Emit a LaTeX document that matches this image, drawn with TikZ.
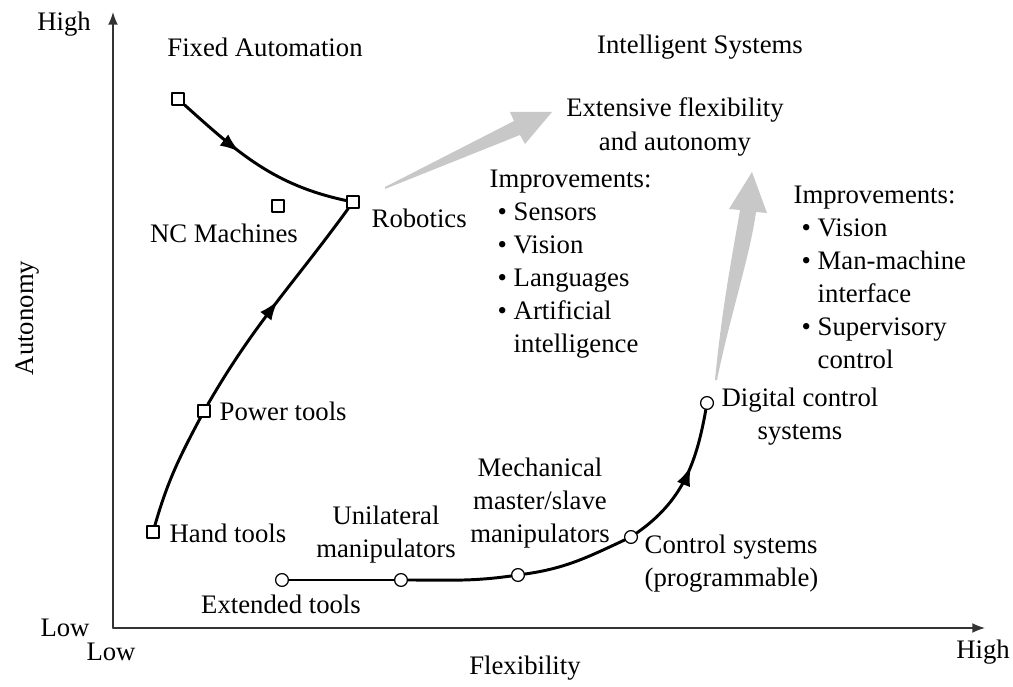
\documentclass[tikz,border=0pt]{standalone}
\usepackage{fontspec}
\setmainfont{Liberation Serif}
\usepackage{tikz}
\usetikzlibrary{arrows.meta,decorations.markings}
\definecolor{axisgray}{HTML}{333333}
\definecolor{trendgray}{HTML}{C8C8C8}
\tikzset{
  every picture/.style={line join=round, line cap=round, >=Latex},
  lbl/.style={font=\fontsize{19}{23.5}\selectfont, inner sep=1pt},
  axis/.style={line width=1pt, axisgray, -{Latex[length=9pt,width=7pt]}},
  path line/.style={line width=2.1pt},
  sqmark/.style={draw, rectangle, fill=white, line width=0.9pt, minimum size=0.3cm, inner sep=0pt},
  circmark/.style={draw, circle, fill=white, line width=0.9pt, minimum size=0.32cm, inner sep=0pt},
  midarrow/.style={postaction={decorate, decoration={markings,
      mark=at position #1 with {\arrow{Latex[length=14pt,width=10pt]}}}}},
  trend/.style={fill=trendgray, draw=none},
}

\begin{document}
\begin{tikzpicture}[x=0.025cm,y=0.025cm]
\useasboundingbox (0,0) rectangle (1013,686);
% axes
\coordinate (O) at (113,58);
\coordinate (ytop) at (113,674);
\coordinate (xend) at (985,58);
\draw[axis] (O) -- (ytop);
\draw[axis] (O) -- (xend);
\node[lbl] (yhigh) at (64,662) {High};
\node[lbl] (ylow) at (65,58) {Low};
\node[lbl] (xlow) at (111,34) {Low};
\node[lbl] (xhigh) at (983,34) {High};
\node[lbl] (xname) at (525,18) {Flexibility};
\node[lbl, rotate=90] (yname) at (28,368) {Autonomy};

% region titles
\node[lbl] (fixed) at (265,639) {Fixed Automation};
\node[lbl] (intel) at (700,639) {Intelligent Systems};

% wide trend arrows
\path[trend] (385,499) -- (514,565) -- (510,574) -- (552,574) -- (525,542)
  -- (520,551) -- (385,497) -- cycle;
\path[trend] (715,306) .. controls (722,380) and (734,440) .. (740,476)
  -- (729,477) -- (752,514) -- (767,473) -- (756,474)
  .. controls (750,430) and (730,370) .. (717,306) -- cycle;

% fixed automation branch
\node[sqmark] (fa) at (178,587) {};
\node[sqmark] (rob) at (353,484) {};
\node[sqmark] (nc) at (278,480) {};
\node[sqmark] (pow) at (204,275) {};
\node[sqmark] (hand) at (153,154) {};
\draw[path line, midarrow=0.38] (fa) to[out=-42,in=168] (rob);
\draw[path line] (hand) to[out=74,in=-118] (pow);
\draw[path line, midarrow=0.52] (pow) to[out=60,in=-126] (rob);
\node[lbl] (nclbl) at (224,453) {NC Machines};
\node[lbl, anchor=west] (roblbl) at (370,468) {Robotics};
\node[lbl, anchor=west] (powlbl) at (218,275) {Power tools};
\node[lbl, anchor=west] (handlbl) at (168,153) {Hand tools};

% telerobotics branch
\node[circmark] (ext) at (282,106) {};
\node[circmark] (uni) at (401,106) {};
\node[circmark] (mech) at (518,111) {};
\node[circmark] (ctrl) at (631,149) {};
\node[circmark] (dig) at (707,283) {};
\draw[path line] (ext) to[out=0,in=180] (uni);
\draw[path line] (uni) to[out=0,in=188] (mech);
\draw[path line] (mech) to[out=8,in=205] (ctrl);
\draw[path line, midarrow=0.6] (ctrl) to[out=35,in=-100] (dig);
\node[lbl] (extlbl) at (281,82) {Extended tools};
\node[lbl, align=center] (unilbl) at (386,151) {Unilateral\\manipulators};
\node[lbl, align=center] (mechlbl) at (540,183) {Mechanical\\master/slave\\manipulators};
\node[lbl, align=left, anchor=west] (ctrllbl) at (643,122) {Control systems\\(programmable)};
\node[lbl, align=center, anchor=west] (diglbl) at (720,269) {Digital control\\systems};

% goal and improvement lists
\node[lbl, align=center] (goal) at (675,559) {Extensive flexibility\\and autonomy};
\node[lbl, align=left, anchor=west] (imp1) at (488,422) {Improvements:\\
  \hspace*{0.3em}\textbullet\ Sensors\\
  \hspace*{0.3em}\textbullet\ Vision\\
  \hspace*{0.3em}\textbullet\ Languages\\
  \hspace*{0.3em}\textbullet\ Artificial\\
  \hspace*{0.3em}\phantom{\textbullet}\ intelligence};
\node[lbl, align=left, anchor=west] (imp2) at (792,409) {Improvements:\\
  \hspace*{0.3em}\textbullet\ Vision\\
  \hspace*{0.3em}\textbullet\ Man-machine\\
  \hspace*{0.3em}\phantom{\textbullet}\ interface\\
  \hspace*{0.3em}\textbullet\ Supervisory\\
  \hspace*{0.3em}\phantom{\textbullet}\ control};
\end{tikzpicture}
\end{document}
